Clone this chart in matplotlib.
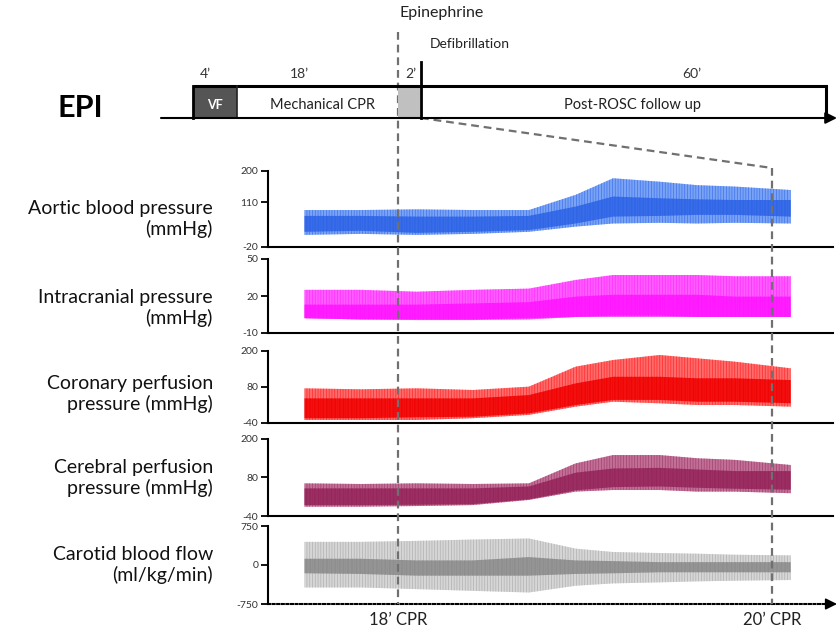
import matplotlib
matplotlib.use("Agg")
import matplotlib.pyplot as plt
from matplotlib.patches import Rectangle

plt.rcParams['font.family'] = ['Lato', 'DejaVu Sans']
plt.rcParams['hatch.linewidth'] = 0.5

# ---------------- data ----------------
time_min = [17.5, 17.8, 18.1, 18.4, 18.7, 18.95, 19.15, 19.4, 19.6, 19.8, 20.1]
marker_times = [18, 20]
marker_labels = ["18\u2019 CPR", "20\u2019 CPR"]

panel_names = ["Aortic blood pressure\n(mmHg)",
               "Intracranial pressure\n(mmHg)",
               "Coronary perfusion\npressure (mmHg)",
               "Cerebral perfusion\npressure (mmHg)",
               "Carotid blood flow\n(ml/kg/min)"]
y_limits = [(-20, 200), (-10, 50), (-40, 200), (-40, 200), (-750, 750)]
y_ticks = [[-20, 110, 200], [-10, 20, 50], [-40, 80, 200], [-40, 80, 200], [-750, 0, 750]]

# envelope (upper / lower) and dense core band of each waveform
aortic_hi = [87, 87, 89, 87, 87, 131, 179, 169, 159, 155, 145]
aortic_lo = [15, 18, 15, 18, 24, 39, 48, 50, 48, 50, 48]
aortic_core_hi = [70, 70, 68, 68, 70, 97, 126, 121, 118, 116, 116]
aortic_core_lo = [24, 27, 21, 24, 29, 48, 68, 70, 73, 73, 68]

icp_hi = [25, 25, 23.5, 25, 26, 33, 37, 37, 37, 36, 36]
icp_lo = [2, 1, 0.5, 0.5, 1, 3, 3, 3, 3, 3, 3]
icp_core_hi = [13, 13, 13, 14, 15, 19.5, 21, 21, 21, 19.5, 19.5]
icp_core_lo = [2, 1, 1, 1, 2, 3, 4, 4, 3, 3, 3]

cpp_hi = [75.6, 72.3, 75.6, 70, 81.2, 147.8, 170, 186.7, 175.6, 164.5, 142.3]
cpp_lo = [-30, -30, -30, -24, -13, 14.5, 31, 25.6, 20, 20, 14.5]
cpp_core_hi = [42, 42, 42, 42, 53, 92, 114, 114, 109, 109, 103]
cpp_core_lo = [-24, -24, -21, -19, -8, 20, 37, 37, 31, 31, 26]

cerpp_hi = [61.8, 59.8, 61.8, 59.8, 61.8, 124, 150, 150, 140, 135, 119]
cerpp_lo = [-11, -11, -9, -6, 10, 36, 41, 41, 36, 36, 31]
cerpp_core_hi = [46, 46, 46, 46, 52, 95, 108, 110, 105, 100, 100]
cerpp_core_lo = [-6, -6, -5, -3, 12, 40, 50, 52, 48, 45, 42]

cbf_hi = [445, 445, 464, 490, 510, 315, 250, 230, 218, 198, 185]
cbf_lo = [-432, -432, -464, -497, -529, -399, -354, -334, -315, -302, -289]
cbf_core_hi = [120, 120, 88, 88, 152, 88, 75, 55, 55, 55, 55]
cbf_core_lo = [-159, -172, -205, -205, -205, -172, -159, -140, -140, -140, -140]

phase_labels = ["VF", "Mechanical CPR", "", "Post-ROSC follow up"]
phase_durations = ["4\u2019", "18\u2019", "2\u2019", "60\u2019"]

series = [
    (aortic_lo, aortic_hi, aortic_core_lo, aortic_core_hi),
    (icp_lo, icp_hi, icp_core_lo, icp_core_hi),
    (cpp_lo, cpp_hi, cpp_core_lo, cpp_core_hi),
    (cerpp_lo, cerpp_hi, cerpp_core_lo, cerpp_core_hi),
    (cbf_lo, cbf_hi, cbf_core_lo, cbf_core_hi),
]

# ---------------- style / layout ----------------
outer_colors = ['#7aa3f6', '#ff5cff', '#ff6a6a', '#c07096', '#d6d6d6']
hatch_colors = ['#3e74ec', '#ff2bff', '#ff2a2a', '#a63f6e', '#b0b0b0']
core_colors = ['#2d63e6', '#ff14ff', '#f00000', '#95245a', '#8a8a8a']

W, H, DPI = 837, 630, 100
AX_L, AX_R = 268, 833
T18_PX, T20_PX = 398, 772
px_per_min = (T20_PX - T18_PX) / 2.0
t_lo = 18 + (AX_L - T18_PX) / px_per_min
t_hi = 18 + (AX_R - T18_PX) / px_per_min
panel_rows = [(171, 247), (259, 333), (351, 423), (439, 516), (526, 604)]
label_y = [219, 308, 394, 478, 565]


def t_to_px(t):
    return T18_PX + (t - 18) * px_per_min


fig = plt.figure(figsize=(W / DPI, H / DPI), dpi=DPI)
fig.patch.set_facecolor('white')

axes = []
for i, (top, bot) in enumerate(panel_rows):
    ax = fig.add_axes([AX_L / W, 1 - bot / H, (AX_R - AX_L) / W, (bot - top) / H])
    ax.patch.set_alpha(0)
    ax.set_xlim(t_lo, t_hi)
    ax.set_ylim(*y_limits[i])
    lo, hi, clo, chi = series[i]
    ax.fill_between(time_min, lo, hi, facecolor=outer_colors[i],
                    edgecolor=hatch_colors[i], hatch='||||||', linewidth=0)
    ax.fill_between(time_min, clo, chi, facecolor=core_colors[i],
                    edgecolor=core_colors[i], hatch='||||', linewidth=0, alpha=0.85)
    for s in ['top', 'right']:
        ax.spines[s].set_visible(False)
    ax.spines['left'].set_linewidth(1.5)
    ax.spines['bottom'].set_linewidth(1.5)
    ax.set_yticks(y_ticks[i])
    ax.set_yticklabels([str(v) for v in y_ticks[i]])
    ax.tick_params(axis='y', direction='out', length=5, width=1.3,
                   labelsize=7.5, pad=2, labelcolor='#333333')
    if i == len(panel_rows) - 1:
        ax.spines['bottom'].set_linestyle((0, (1.0, 1.2)))
        ax.set_xticks(marker_times)
        ax.set_xticklabels(marker_labels)
        ax.tick_params(axis='x', length=0, labelsize=12, pad=6, labelcolor='#222222')
    else:
        ax.set_xticks([])
    fig.text(213 / W, 1 - label_y[i] / H, panel_names[i], ha='right', va='center',
             fontsize=14, linespacing=1.25, color='#111111')
    axes.append(ax)

# ---------------- overlay (timeline, dashed markers) ----------------
ov = fig.add_axes([0, 0, 1, 1])
ov.set_xlim(0, W)
ov.set_ylim(H, 0)
ov.axis('off')
ov.patch.set_alpha(0)
ov.set_zorder(5)

dash_kw = dict(color='#707070', lw=1.6, ls=(0, (3.5, 2.2)))
x18, x20 = t_to_px(marker_times[0]), t_to_px(marker_times[1])
ov.plot([x18, x18], [32, 604], **dash_kw)
ov.plot([x20, x20], [168, 604], **dash_kw)
ov.plot([421, x20], [118, 168], **dash_kw)

# timeline bar
ov.add_patch(Rectangle((193, 86), 44, 32, facecolor='#555555', edgecolor='none', zorder=2))
ov.add_patch(Rectangle((398, 86), 22, 32, facecolor='#c0c0c0', edgecolor='none', zorder=2))
ov.plot([193, 826], [86, 86], color='black', lw=2.2, solid_capstyle='butt', zorder=3)
ov.plot([193, 193], [86, 118], color='black', lw=2, zorder=3)
ov.plot([237, 237], [86, 118], color='#222222', lw=1.2, zorder=3)
ov.plot([826, 826], [86, 118], color='black', lw=2.2, zorder=3)
ov.plot([421, 421], [62, 118], color='black', lw=2, zorder=3)
ov.annotate('', xy=(837, 118), xytext=(161, 118), annotation_clip=False,
            arrowprops=dict(arrowstyle='-|>', lw=1.5, color='black',
                            mutation_scale=17, shrinkA=0, shrinkB=0), zorder=3)
ov.annotate('', xy=(837, 604), xytext=(824, 604), annotation_clip=False,
            arrowprops=dict(arrowstyle='-|>', lw=1.2, color='black',
                            mutation_scale=17, shrinkA=0, shrinkB=0), zorder=3)

phase_x = [215, 323, 409, 633]
dur_x = [205, 299, 411, 692]
for k in range(4):
    if phase_labels[k]:
        ov.text(phase_x[k], 105, phase_labels[k], ha='center', va='center',
                fontsize=9 if k == 0 else 10.5,
                color='white' if k == 0 else '#222222',
                fontweight='bold' if k == 0 else 'normal', zorder=4)
    ov.text(dur_x[k], 74, phase_durations[k], ha='center', va='center',
            fontsize=10, color='#333333', zorder=4)

ov.text(80, 108, "EPI", ha='center', va='center', fontsize=22, fontweight='bold', color='black')
ov.text(442, 13, "Epinephrine", ha='center', va='center', fontsize=11.5, color='#222222')
ov.text(470, 44, "Defibrillation", ha='center', va='center', fontsize=10, color='#222222')

fig.savefig('out.png', dpi=DPI, facecolor='white')
